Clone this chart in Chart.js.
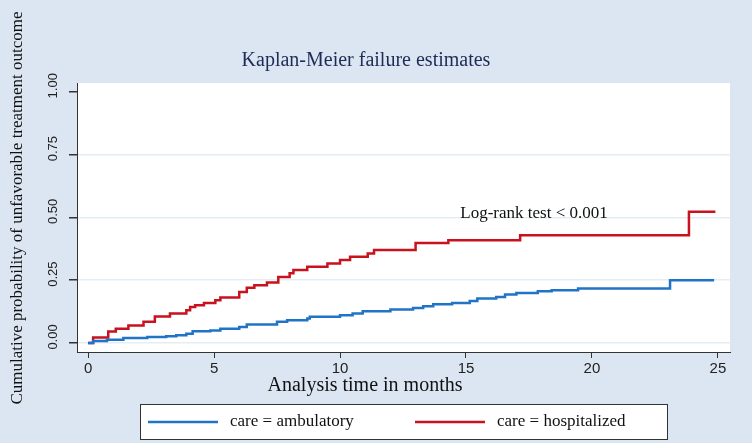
<!DOCTYPE html>
<html>
<head>
<meta charset="utf-8">
<script src="https://cdn.jsdelivr.net/npm/chart.js@4/dist/chart.umd.min.js"></script>
<style>
  html, body { margin: 0; padding: 0; background: #dce6f2; }
  #wrap { width: 752px; height: 443px; }
</style>
</head>
<body>
<div id="wrap"><canvas id="c" width="752" height="443"></canvas></div>
<script>
// ---- data ----
const chartTitle = "Kaplan-Meier failure estimates";
const xTitle = "Analysis time in months";
const yTitle = "Cumulative probability of unfavorable treatment outcome";
const seriesNames = ["care = ambulatory", "care = hospitalized"];
const annotationText = "Log-rank test < 0.001";
const annotationAt = [17.7, 0.517];

const tAmbulatory = [0, 0.2, 0.75, 1.4, 2.35, 3.1, 3.5, 3.9, 4.15, 4.85, 5.25, 6.0, 6.3, 7.5, 7.9, 8.7, 8.8, 10.0, 10.5, 10.9, 12.0, 12.9, 13.3, 13.7, 14.45, 15.15, 15.45, 16.2, 16.55, 17.0, 17.85, 18.4, 19.45, 23.1, 24.85];
const vAmbulatory = [0, 0.008, 0.013, 0.02, 0.024, 0.027, 0.031, 0.037, 0.047, 0.05, 0.057, 0.064, 0.073, 0.084, 0.09, 0.097, 0.104, 0.11, 0.117, 0.126, 0.133, 0.139, 0.146, 0.154, 0.159, 0.167, 0.177, 0.183, 0.193, 0.199, 0.206, 0.21, 0.217, 0.25, 0.25];

const tHospitalized = [0, 0.2, 0.8, 1.1, 1.6, 2.2, 2.65, 3.25, 3.9, 4.05, 4.25, 4.6, 5.05, 5.25, 6.0, 6.3, 6.6, 7.1, 7.55, 8.0, 8.15, 8.7, 9.5, 10.0, 10.4, 11.1, 11.35, 13.0, 14.3, 17.15, 23.85, 24.9];
const vHospitalized = [0, 0.022, 0.046, 0.057, 0.07, 0.084, 0.105, 0.117, 0.13, 0.143, 0.15, 0.159, 0.17, 0.181, 0.203, 0.22, 0.23, 0.241, 0.263, 0.278, 0.29, 0.303, 0.316, 0.33, 0.343, 0.356, 0.37, 0.398, 0.409, 0.429, 0.522, 0.522];

const xTickStep = 5;
const yTickStep = 0.25;

// ---- styles ----
const BG = '#dce6f2';
const BLUE = '#1f74c8';
const RED = '#c8121e';
const SERIF = '"Liberation Serif", "Times New Roman", serif';
const SANS = '"Liberation Sans", Arial, sans-serif';

function pts(ts, vs) { return ts.map((t, i) => ({ x: t, y: vs[i] })); }

const decor = {
  id: 'decor',
  beforeDraw(chart) {
    const { ctx, chartArea: a } = chart;
    ctx.save();
    ctx.fillStyle = BG;
    ctx.fillRect(0, 0, chart.width, chart.height);
    ctx.fillStyle = '#ffffff';
    ctx.fillRect(a.left, a.top, a.right - a.left, a.bottom - a.top);
    ctx.restore();
  },
  afterDraw(chart) {
    const { ctx, chartArea: a, scales } = chart;
    const ys = scales.y, xs = scales.x;
    ctx.save();
    // y tick labels (vertical)
    ctx.fillStyle = '#222';
    ctx.font = '13px ' + SANS;
    ctx.textAlign = 'center';
    ctx.textBaseline = 'middle';
    ys.ticks.forEach(tk => {
      const py = ys.getPixelForValue(tk.value);
      ctx.save();
      ctx.translate(a.left - 24, py - 6);
      ctx.rotate(-Math.PI / 2);
      ctx.fillText(tk.value.toFixed(2), 0, 0);
      ctx.restore();
    });
    // y title
    ctx.fillStyle = '#111';
    ctx.font = '17px ' + SERIF;
    ctx.save();
    ctx.translate(18, 208);
    ctx.rotate(-Math.PI / 2);
    ctx.fillText(yTitle, 0, 0);
    ctx.restore();
    // x title
    ctx.font = '20px ' + SERIF;
    ctx.fillText(xTitle, 365, 386);
    // main title
    ctx.fillStyle = '#1d2b55';
    ctx.font = '20px ' + SERIF;
    ctx.fillText(chartTitle, 366, 61);
    // annotation
    ctx.fillStyle = '#111';
    ctx.font = '17px ' + SERIF;
    ctx.fillText(annotationText, xs.getPixelForValue(annotationAt[0]), ys.getPixelForValue(annotationAt[1]));
    // legend box
    ctx.fillStyle = '#ffffff';
    ctx.fillRect(140, 404, 527, 35);
    ctx.strokeStyle = '#333';
    ctx.lineWidth = 1;
    ctx.strokeRect(140.5, 404.5, 527, 35);
    const items = [
      { color: BLUE, x: 148, text: seriesNames[0] },
      { color: RED, x: 415, text: seriesNames[1] }
    ];
    ctx.textAlign = 'left';
    ctx.font = '17px ' + SERIF;
    items.forEach(it => {
      ctx.strokeStyle = it.color;
      ctx.lineWidth = 2.5;
      ctx.beginPath();
      ctx.moveTo(it.x, 422);
      ctx.lineTo(it.x + 70, 422);
      ctx.stroke();
      ctx.fillStyle = '#111';
      ctx.fillText(it.text, it.x + 82, 422);
    });
    ctx.restore();
  }
};

new Chart(document.getElementById('c'), {
  type: 'line',
  data: {
    datasets: [
      { label: seriesNames[0], data: pts(tAmbulatory, vAmbulatory), borderColor: BLUE, backgroundColor: BLUE, borderWidth: 2.5, pointRadius: 0, stepped: true, fill: false },
      { label: seriesNames[1], data: pts(tHospitalized, vHospitalized), borderColor: RED, backgroundColor: RED, borderWidth: 2.5, pointRadius: 0, stepped: true, fill: false }
    ]
  },
  options: {
    responsive: false,
    animation: false,
    devicePixelRatio: 1,
    layout: { padding: { left: 0, top: 83, right: 22, bottom: 0 } },
    plugins: { legend: { display: false }, title: { display: false }, tooltip: { enabled: false } },
    scales: {
      x: {
        type: 'linear',
        min: -0.44, max: 25.48,
        afterFit(s) { s.height = 91; },
        border: { display: true, color: '#333', width: 1 },
        grid: { drawOnChartArea: false, color: 'transparent', tickColor: '#333', tickLength: 6 },
        ticks: { stepSize: xTickStep, includeBounds: false, color: '#222', font: { family: SANS, size: 15 }, padding: 2,
                 callback: v => String(v) }
      },
      y: {
        type: 'linear',
        min: -0.036, max: 1.035,
        afterFit(s) { s.width = 77; },
        border: { display: true, color: '#333', width: 1 },
        grid: { drawOnChartArea: true, color: ctx => (ctx.tick && ctx.tick.value > 0.9 ? 'transparent' : '#e3edf4'), lineWidth: 1.5, tickColor: '#333', tickLength: 8 },
        ticks: { stepSize: yTickStep, includeBounds: false, display: false }
      }
    }
  },
  plugins: [decor]
});
</script>
</body>
</html>
